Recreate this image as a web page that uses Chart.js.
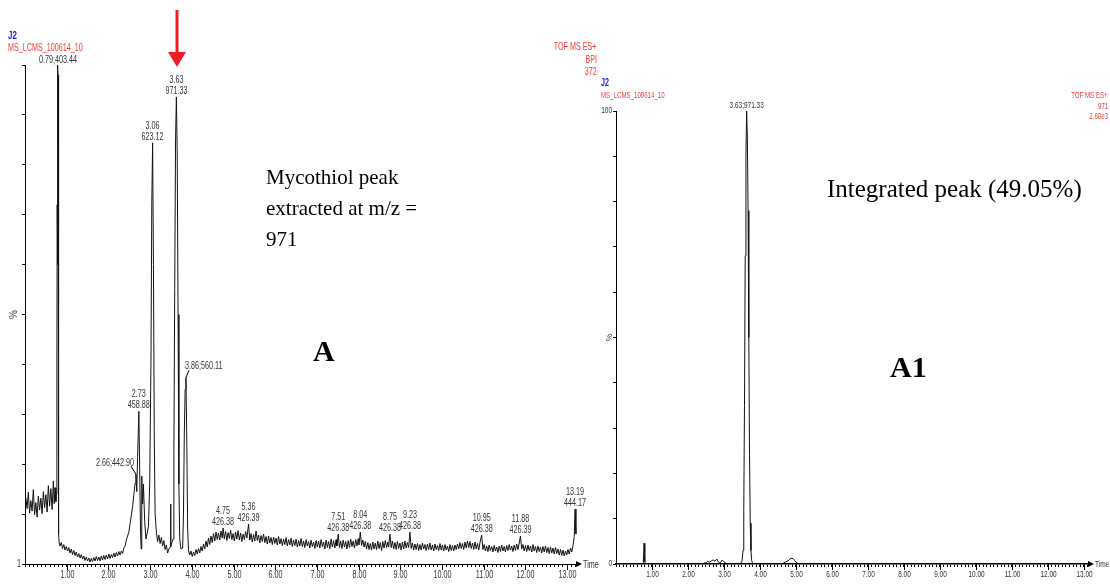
<!DOCTYPE html>
<html>
<head>
<meta charset="utf-8">
<script src="https://cdn.jsdelivr.net/npm/chart.js@4.4.1/dist/chart.umd.min.js"></script>
<style>
  body { margin: 0; width: 1110px; height: 588px; background: #fff; position: relative; overflow: hidden; }
  canvas { position: absolute; top: 0; }
  #bpi { left: 0; }
  #xic { left: 600px; }
  .t { position: absolute; white-space: nowrap; line-height: 1; font-family: "Liberation Sans", Arial, sans-serif; font-size: 10px;
       transform: scaleX(0.72); transform-origin: left center; }
  .t.r { transform-origin: right center; }
  .red { color: #f03a3a; }
  .blue { color: #1c1cd8; font-weight: bold; }
  .serif { position: absolute; white-space: nowrap; font-family: "Liberation Serif", "Times New Roman", serif; color: #000; }
</style>
</head>
<body>
<canvas id="bpi" width="600" height="588"></canvas>
<canvas id="xic" width="510" height="588"></canvas>

<!-- header text of both traces -->
<div class="t blue" style="left:8px; top:30px; font-size:11px;">J2</div>
<div class="t red" style="left:8px; top:43px;">MS_LCMS_100614_10</div>
<div class="t red r" style="right:513px; top:42px;">TOF MS ES+</div>
<div class="t red r" style="right:513px; top:55px;">BPI</div>
<div class="t red r" style="right:513px; top:67px;">372</div>

<div class="t blue" style="left:601px; top:78px;">J2</div>
<div class="t red" style="left:601px; top:91px; font-size:8.5px;">MS_LCMS_100614_10</div>
<div class="t red r" style="right:2px; top:91px; font-size:8.5px;">TOF MS ES+</div>
<div class="t red r" style="right:2px; top:102px; font-size:8.5px;">971</div>
<div class="t red r" style="right:2px; top:112px; font-size:8.5px;">2.60e3</div>

<div class="serif" style="left:266px; top:162px; font-size:21px; line-height:31px;">Mycothiol peak<br>extracted at m/z =<br>971</div>
<div class="serif" style="left:313px; top:334px; font-size:30px; font-weight:bold;">A</div>
<div class="serif" style="left:827px; top:175px; font-size:25px;">Integrated peak (49.05%)</div>
<div class="serif" style="left:890px; top:350px; font-size:30px; font-weight:bold;">A1</div>

<svg style="position:absolute; left:166px; top:8px;" width="22" height="62">
  <line x1="11" y1="2" x2="11" y2="46" stroke="#ee1c24" stroke-width="3"/>
  <polygon points="2,44 20,44 11,59" fill="#ee1c24"/>
</svg>

<script>
// BPI trace, time (min) vs % of base peak
const bpiTrace = [
  [0.02,13.3],[0.05,11.1],[0.08,14.4],[0.11,10.2],[0.14,12.7],[0.17,10.6],[0.20,14.9],[0.23,9.9],[0.26,12.3],[0.29,9.4],
  [0.32,13.6],[0.35,10.8],[0.38,13.2],[0.41,10.1],[0.44,14.5],[0.47,11.3],[0.50,13.9],[0.53,10.4],[0.56,15.7],[0.59,11.6],
  [0.62,15.1],[0.65,10.9],[0.68,16.6],[0.70,12.1],[0.72,15.3],[0.74,12.5],
  [0.755,14],[0.765,40],[0.772,72],[0.778,60],[0.785,100],[0.792,98],[0.80,30],[0.81,6],[0.82,4.2],
  [0.84,3.6],[0.87,4.3],[0.90,3.1],[0.93,3.9],[0.96,2.8],[0.99,3.5],[1.02,2.6],[1.05,3.3],[1.08,2.2],[1.11,3.0],
  [1.14,1.9],[1.17,2.7],[1.20,1.7],[1.23,2.4],[1.26,1.4],[1.29,2.1],[1.32,1.2],[1.35,1.9],[1.38,1.0],[1.41,1.6],
  [1.44,0.7],[1.47,1.4],[1.50,0.6],[1.53,1.2],[1.56,0.4],[1.59,1.1],[1.62,0.5],[1.65,1.3],[1.68,0.6],[1.71,1.5],
  [1.74,0.7],[1.77,1.4],[1.80,0.6],[1.83,1.6],[1.86,0.8],[1.89,1.7],[1.92,0.9],[1.95,1.8],[1.98,1.0],[2.01,2.0],
  [2.04,1.1],[2.07,1.9],[2.10,1.3],[2.13,2.2],[2.16,1.4],[2.19,2.3],[2.22,1.6],[2.25,2.5],[2.28,1.8],[2.31,2.6],
  [2.34,2.1],[2.37,3.2],[2.40,3.6],[2.43,4.8],[2.46,5.6],[2.49,6.4],[2.52,8.1],[2.55,9.8],[2.58,11.5],[2.61,13.9],
  [2.64,16.2],[2.66,18.0],[2.68,14.5],[2.70,21.5],[2.73,30.6],[2.75,19.0],[2.77,6.5],[2.785,3.0],[2.80,17.6],[2.82,12.0],
  [2.84,16.0],[2.87,8.5],[2.90,5.0],[2.93,6.2],[2.96,7.5],[2.99,16.0],[3.02,40.0],[3.04,72.0],[3.06,84.4],[3.08,60.0],
  [3.10,25.0],[3.12,10.0],[3.15,6.4],[3.18,4.5],[3.21,5.8],[3.24,4.1],[3.27,5.3],[3.30,3.6],[3.33,4.7],[3.36,2.9],
  [3.39,3.8],[3.42,2.2],[3.45,3.0],[3.48,3.4],[3.49,12.0],[3.50,3.5],[3.53,4.5],[3.55,5.0],[3.57,22.0],[3.59,55.0],
  [3.61,85.0],[3.63,93.6],[3.65,82.0],[3.67,50.0],[3.69,16.0],[3.71,5.0],[3.74,3.0],[3.78,3.2],[3.80,10.0],[3.82,26.0],
  [3.84,35.0],[3.86,37.4],[3.88,24.0],[3.90,7.0],[3.92,2.8],[3.95,1.8],[3.98,2.6],[4.01,1.5],[4.04,2.4],[4.07,1.7],
  [4.10,2.9],[4.13,2.0],[4.16,3.1],[4.19,2.2],[4.22,3.5],[4.25,2.6],[4.28,4.0],[4.31,3.0],[4.34,4.6],[4.37,3.4],
  [4.40,5.2],[4.43,3.9],[4.46,5.6],[4.49,4.3],[4.52,6.1],[4.55,4.6],[4.58,6.4],[4.61,4.9],[4.64,6.2],[4.67,4.8],
  [4.70,6.6],[4.73,5.2],[4.75,7.2],[4.78,5.0],[4.81,6.5],[4.84,4.7],[4.87,6.3],[4.90,5.1],[4.93,6.8],[4.96,4.9],
  [4.99,6.1],[5.02,4.6],[5.05,6.4],[5.08,5.0],[5.11,6.7],[5.14,4.8],[5.17,6.2],[5.20,4.5],[5.23,6.0],[5.26,4.9],
  [5.29,6.5],[5.32,5.2],[5.36,8.0],[5.39,4.8],[5.42,6.1],[5.45,4.4],[5.48,5.9],[5.51,4.6],[5.54,6.6],[5.57,4.7],
  [5.60,5.8],[5.63,4.2],[5.66,5.7],[5.69,4.5],[5.72,6.0],[5.75,4.3],[5.78,5.5],[5.81,4.0],[5.84,5.6],[5.87,4.2],
  [5.90,5.3],[5.93,3.9],[5.96,5.4],[5.99,4.1],[6.02,5.2],[6.05,3.8],[6.08,5.5],[6.11,4.0],[6.14,5.1],[6.17,3.7],
  [6.20,5.0],[6.23,3.9],[6.26,5.3],[6.29,3.6],[6.32,4.9],[6.35,3.8],[6.38,5.2],[6.41,3.5],[6.44,4.8],[6.47,3.7],
  [6.50,5.0],[6.53,3.4],[6.56,4.7],[6.59,3.6],[6.62,5.1],[6.65,3.5],[6.68,4.6],[6.71,3.3],[6.74,4.9],[6.77,3.6],
  [6.80,4.5],[6.83,3.2],[6.86,4.8],[6.89,3.5],[6.92,4.4],[6.95,3.1],[6.98,4.7],[7.01,3.4],[7.04,4.6],[7.07,3.2],
  [7.10,4.9],[7.13,3.5],[7.16,4.4],[7.19,3.0],[7.22,4.8],[7.25,3.3],[7.28,4.5],[7.31,3.1],[7.34,5.0],[7.37,3.4],
  [7.40,4.7],[7.43,3.2],[7.46,4.9],[7.48,3.6],[7.51,6.0],[7.54,3.3],[7.57,4.6],[7.60,3.1],[7.63,4.8],[7.66,3.4],
  [7.69,4.5],[7.72,3.0],[7.75,4.7],[7.78,3.3],[7.81,5.0],[7.84,3.5],[7.87,4.6],[7.90,3.2],[7.93,4.9],[7.96,3.6],
  [7.99,5.1],[8.01,3.8],[8.04,6.4],[8.07,3.7],[8.10,4.8],[8.13,3.4],[8.16,4.5],[8.19,3.0],[8.22,4.3],[8.25,2.9],
  [8.28,4.1],[8.31,2.8],[8.34,4.4],[8.37,3.0],[8.40,4.2],[8.43,2.9],[8.46,4.6],[8.49,3.1],[8.52,4.3],[8.55,2.7],
  [8.58,4.5],[8.61,3.2],[8.64,4.7],[8.67,3.3],[8.70,4.4],[8.72,3.4],[8.75,6.0],[8.78,3.3],[8.81,4.6],[8.84,3.0],
  [8.87,4.3],[8.90,2.9],[8.93,4.5],[8.96,3.1],[8.99,4.2],[9.02,2.8],[9.05,4.4],[9.08,3.0],[9.11,4.6],[9.14,3.2],
  [9.17,4.3],[9.20,3.3],[9.23,6.4],[9.26,3.1],[9.29,4.2],[9.32,2.8],[9.35,4.0],[9.38,2.9],[9.41,4.1],[9.44,2.7],
  [9.47,3.9],[9.50,2.8],[9.53,4.2],[9.56,3.0],[9.59,3.9],[9.62,2.7],[9.65,4.0],[9.68,2.9],[9.71,4.2],[9.74,2.8],
  [9.77,3.8],[9.80,2.6],[9.83,4.0],[9.86,2.9],[9.89,3.7],[9.92,2.7],[9.95,4.1],[9.98,2.8],[10.01,3.8],[10.04,2.6],
  [10.07,3.9],[10.10,2.8],[10.13,3.6],[10.16,2.5],[10.19,3.9],[10.22,2.7],[10.25,3.7],[10.28,2.6],[10.31,3.8],[10.34,2.9],
  [10.37,4.0],[10.40,3.0],[10.43,4.3],[10.46,3.1],[10.49,4.1],[10.52,2.9],[10.55,4.4],[10.58,3.2],[10.61,4.6],[10.64,3.3],
  [10.67,4.5],[10.70,3.1],[10.73,4.2],[10.76,2.9],[10.79,4.4],[10.82,3.0],[10.85,4.1],[10.88,2.8],[10.91,4.3],[10.95,5.8],
  [10.98,2.9],[11.01,3.9],[11.04,2.6],[11.07,3.6],[11.10,2.5],[11.13,3.8],[11.16,2.7],[11.19,3.5],[11.22,2.4],[11.25,3.7],
  [11.28,2.6],[11.31,3.4],[11.34,2.3],[11.37,3.6],[11.40,2.5],[11.43,3.8],[11.46,2.6],[11.49,3.5],[11.52,2.4],[11.55,3.7],
  [11.58,2.7],[11.61,3.9],[11.64,2.8],[11.67,3.6],[11.70,2.5],[11.73,3.8],[11.76,2.7],[11.79,4.0],[11.82,2.9],[11.85,4.2],
  [11.88,5.6],[11.91,3.0],[11.94,3.9],[11.97,2.6],[12.00,3.7],[12.03,2.5],[12.06,3.8],[12.09,2.7],[12.12,3.6],[12.15,2.4],
  [12.18,3.9],[12.21,2.6],[12.24,3.5],[12.27,2.3],[12.30,3.6],[12.33,2.5],[12.36,3.4],[12.39,2.2],[12.42,3.5],[12.45,2.4],
  [12.48,3.6],[12.51,2.3],[12.54,3.3],[12.57,2.1],[12.60,3.4],[12.63,2.2],[12.66,3.2],[12.69,2.0],[12.72,3.3],[12.75,2.1],
  [12.78,3.0],[12.81,1.8],[12.84,2.9],[12.87,1.7],[12.90,2.8],[12.93,1.6],[12.96,2.6],[12.99,1.8],[13.02,2.9],[13.05,2.0],
  [13.08,3.2],[13.11,2.4],[13.14,3.6],[13.17,5.5],[13.19,11.0],[13.21,6.0]
];

// extracted ion chromatogram m/z 971, % of 2.60e3
const xicTrace = [
  [0.00,0],[0.74,0],[0.76,0.4],[0.78,4.6],[0.80,0.5],[0.82,0],[2.30,0],[2.40,0.1],[2.50,0.3],[2.55,0.6],
  [2.60,0.4],[2.65,0.7],[2.70,0.9],[2.75,0.6],[2.80,1.1],[2.85,0.4],[2.90,0.3],[2.95,0.9],[3.00,0.5],[3.05,0.2],
  [3.10,0],[3.45,0],[3.50,0.6],[3.53,3],[3.55,12],[3.57,35],[3.59,68],[3.61,90],[3.63,100],[3.65,94],
  [3.67,78],[3.69,50],[3.71,24],[3.73,9],[3.75,3],[3.77,0.8],[3.80,0],[4.60,0],[4.65,0.2],[4.72,0.5],
  [4.80,0.8],[4.86,1.3],[4.92,1.2],[4.97,0.7],[5.03,0.2],[5.10,0],[13.15,0]
];

// labelled peaks: retention time and m/z
const bpiPeakTimes = [0.79, 2.66, 2.73, 3.06, 3.63, 3.86, 4.75, 5.36, 7.51, 8.04, 8.75, 9.23, 10.95, 11.88, 13.19];
const bpiPeakMasses = ['403.44', '442.90', '458.88', '623.12', '971.33', '560.11', '426.38', '426.39',
  '426.38', '426.38', '426.38', '426.38', '426.38', '426.39', '444.17'];
const xicPeakTimes = [3.63];
const xicPeakMasses = ['971.33'];

// axis tick labels
const minuteTicks = [1, 2, 3, 4, 5, 6, 7, 8, 9, 10, 11, 12, 13];
const bpiYLabels = { 0: '1' };
const xicYLabels = { 0: '0', 100: '100' };

// how each label sits next to its peak
const bpiLabelStyle = { 0.79: 'inline', 2.66: 'left', 3.86: 'right' };
const xicLabelStyle = { 3.63: 'inline' };

const sans = "'Liberation Sans', Arial, sans-serif";
const SQUEEZE = 0.72; // narrow look of the original font

function apexOf(trace, t) {
  let best = 0;
  trace.forEach(p => { if (Math.abs(p[0] - t) <= 0.015 && p[1] > best) best = p[1]; });
  return best;
}

function narrowText(ctx, str, x, y, align) {
  ctx.save();
  ctx.translate(x, y);
  ctx.scale(SQUEEZE, 1);
  ctx.textAlign = align;
  ctx.fillText(str, 0, 0);
  ctx.restore();
}

const chromExtras = {
  id: 'chromExtras',
  afterDraw(chart, args, o) {
    const { ctx, chartArea: a, scales: { x, y } } = chart;
    ctx.save();
    ctx.strokeStyle = '#000';
    ctx.lineWidth = 1;
    ctx.fillStyle = '#333';
    ctx.font = o.fontSize + 'px ' + sans;
    ctx.textBaseline = 'middle';
    // longer ticks + labels at whole minutes
    minuteTicks.forEach(m => {
      const px = Math.round(x.getPixelForValue(m)) + 0.5;
      ctx.beginPath();
      ctx.moveTo(px, a.bottom);
      ctx.lineTo(px, a.bottom + 6);
      ctx.stroke();
      narrowText(ctx, m.toFixed(2), px, a.bottom + 11, 'center');
    });
    Object.keys(o.yLabels).forEach(v => {
      narrowText(ctx, o.yLabels[v], a.left - 4, y.getPixelForValue(+v), 'right');
    });
    // axis arrow + "Time"
    ctx.fillStyle = '#000';
    ctx.beginPath();
    ctx.moveTo(a.right + 4, a.bottom);
    ctx.lineTo(a.right - 2, a.bottom - 3);
    ctx.lineTo(a.right - 2, a.bottom + 3);
    ctx.closePath();
    ctx.fill();
    ctx.fillStyle = '#333';
    narrowText(ctx, 'Time', a.right + 5, a.bottom + 1, 'left');
    // rotated "%"
    ctx.save();
    ctx.translate(a.left - o.pctGap, y.getPixelForValue(50));
    ctx.rotate(-Math.PI / 2);
    ctx.textAlign = 'center';
    ctx.fillText('%', 0, 0);
    ctx.restore();
    // peak labels
    o.times.forEach((t, i) => {
      const px = x.getPixelForValue(t);
      const py = y.getPixelForValue(apexOf(o.trace, t));
      const tt = t.toFixed(2), mz = o.masses[i];
      const st = o.styles[t];
      if (st === 'inline') {
        narrowText(ctx, tt + ';' + mz, px, py - 5, 'center');
      } else if (st === 'left') {
        narrowText(ctx, tt + ';' + mz, px - 2, py - 11, 'right');
        ctx.beginPath(); ctx.moveTo(px - 5, py - 8); ctx.lineTo(px, py); ctx.stroke();
      } else if (st === 'right') {
        narrowText(ctx, tt + ';' + mz, px - 1, py - 11, 'left');
        ctx.beginPath(); ctx.moveTo(px, py); ctx.lineTo(px + 3, py - 7); ctx.stroke();
      } else {
        narrowText(ctx, tt, px, py - 17, 'center');
        narrowText(ctx, mz, px, py - 6, 'center');
      }
    });
    ctx.restore();
  }
};

function makeChart(id, trace, xMax, pad, yWidth, xBorder, extras) {
  return new Chart(document.getElementById(id), {
    type: 'line',
    data: {
      datasets: [{
        data: trace.map(p => ({ x: p[0], y: p[1] })),
        borderColor: '#111',
        borderWidth: 1,
        pointRadius: 0,
        tension: 0,
        fill: false
      }]
    },
    options: {
      responsive: false,
      animation: false,
      layout: { padding: pad },
      plugins: { legend: { display: false }, tooltip: { enabled: false }, chromExtras: extras },
      scales: {
        x: {
          type: 'linear', min: 0, max: xMax,
          afterFit(s) { s.height = 24; },
          border: { color: '#000', width: xBorder },
          grid: { drawOnChartArea: false, tickLength: 3, color: '#000' },
          ticks: { stepSize: 0.1, autoSkip: false, includeBounds: false, maxRotation: 0, callback: () => '' }
        },
        y: {
          min: 0, max: 100,
          afterFit(s) { s.width = yWidth; },
          border: { color: '#000', width: 1 },
          grid: { drawOnChartArea: false, tickLength: 3, color: '#000' },
          ticks: { stepSize: 10, autoSkip: false, callback: () => '' }
        }
      }
    },
    plugins: [chromExtras]
  });
}

makeChart('bpi', bpiTrace, 13.26, { top: 65, right: 22, left: 0, bottom: 0 }, 25, 1,
  { trace: bpiTrace, times: bpiPeakTimes, masses: bpiPeakMasses, styles: bpiLabelStyle, yLabels: bpiYLabels, fontSize: 10, pctGap: 11 });

makeChart('xic', xicTrace, 13.17, { top: 111, right: 20, left: 0, bottom: 0 }, 16, 1.6,
  { trace: xicTrace, times: xicPeakTimes, masses: xicPeakMasses, styles: xicLabelStyle, yLabels: xicYLabels, fontSize: 9, pctGap: 6 });
</script>
</body>
</html>
